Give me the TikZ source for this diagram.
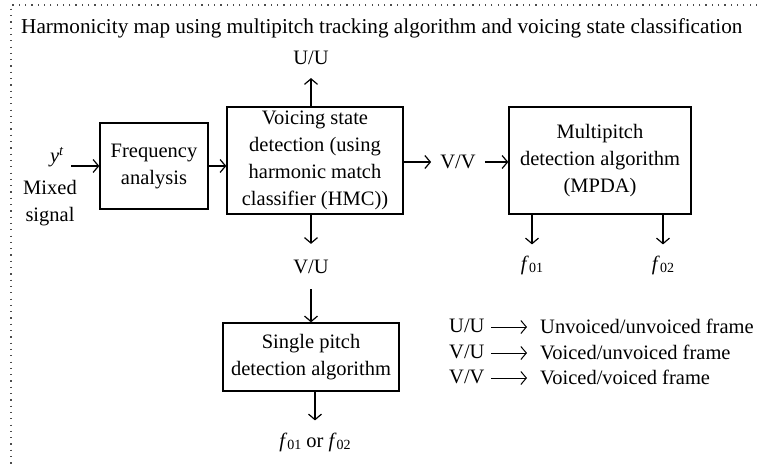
\documentclass[tikz,border=0pt]{standalone}
\usepackage{fontspec}
\setmainfont{Liberation Serif}
\usetikzlibrary{arrows.meta}
\newcommand{\fsub}[1]{\textit{f}{\fontsize{14}{14}\selectfont\raisebox{-2pt}{#1}}}
\begin{document}
\begin{tikzpicture}[x=1pt,y=-1pt,
  txt/.style={inner sep=0pt, font=\fontsize{20.5}{27}\selectfont, align=center},
  blk/.style={draw, line width=1.3pt, inner sep=0pt, align=center,
              font=\fontsize{20.5}{27}\selectfont},
  conn/.style={line width=1.2pt, -{Straight Barb[length=5.5pt,width=13pt]}},
  outline/.style={line width=1.2pt, dash pattern=on 1.2pt off 5.1pt, black!70}]
\useasboundingbox (0,0) rectangle (757,467);

% dotted frame (top and left edges)
\draw[outline] (757,5) -- (11,5) -- (11,467);

% title
\node[txt, anchor=base west, font=\fontsize{21.2}{26}\selectfont] (title) at (21,33)
  {Harmonicity map using multipitch tracking algorithm and voicing state classification};

% processing blocks
\node[blk, minimum width=108pt, minimum height=86pt] (freq) at (154,166) {Frequency\\analysis};
\node[blk, minimum width=176pt, minimum height=107pt] (vsd) at (315,160.5)
  {Voicing state\\detection (using\\harmonic match\\classifier (HMC))};
\node[blk, minimum width=182pt, minimum height=107pt] (mpda) at (600,160.5)
  {Multipitch\\detection algorithm\\(MPDA)};
\node[blk, minimum width=176pt, minimum height=68pt] (spd) at (311,357)
  {Single pitch\\detection algorithm};

% input
\node[txt] (yin) at (57,157) {\textit{y}\textsuperscript{\textit{t}}};
\node[txt] (ms) at (50,203) {Mixed\\signal};

% state labels and outputs
\node[txt] (uu) at (311,58) {U/U};
\node[txt] (vu) at (311,267) {V/U};
\node[txt] (vv) at (458,162) {V/V};
\node[txt] (f1) at (532,265) {\fsub{01}};
\node[txt] (f2) at (663,265) {\fsub{02}};
\node[txt] (fo) at (315,442) {\fsub{01} or \fsub{02}};

% connectors
\draw[conn] ([xshift=-28pt]freq.west) -- (freq.west);
\draw[conn] (freq.east) -- (freq.east -| vsd.west);
\draw[conn, shorten >=13pt] (vsd.north -| uu) -- (uu.south);
\draw[conn, shorten >=16pt] (vsd.south -| vu) -- (vu.north);
\draw[conn, shorten <=15pt] (vu.south) -- (spd.north -| vu);
\draw[conn, shorten >=9pt] (vsd.east |- vv) -- (vv.west);
\draw[conn, shorten <=9pt] (vv.east) -- (vv.east -| mpda.west);
\draw[conn, shorten >=11pt] (mpda.south -| f1) -- (f1.north);
\draw[conn, shorten >=11pt] (mpda.south -| f2) -- (f2.north);
\draw[conn, shorten >=12pt] (spd.south -| fo) -- (fo.north);

% legend
\node[txt, anchor=west] (k1) at (449,326) {U/U};
\node[txt, anchor=west] (k2) at (449,352) {V/U};
\node[txt, anchor=west] (k3) at (449,377) {V/V};
\node[txt, anchor=west] (d1) at (540,326) {Unvoiced/unvoiced frame};
\node[txt, anchor=west] (d2) at (540,352) {Voiced/unvoiced frame};
\node[txt, anchor=west] (d3) at (540,377) {Voiced/voiced frame};
\foreach \d in {d1,d2,d3}
  \draw[conn, line width=1pt] ([xshift=-49pt,yshift=-1pt]\d.west) -- ([xshift=-13pt,yshift=-1pt]\d.west);
\end{tikzpicture}
\end{document}
